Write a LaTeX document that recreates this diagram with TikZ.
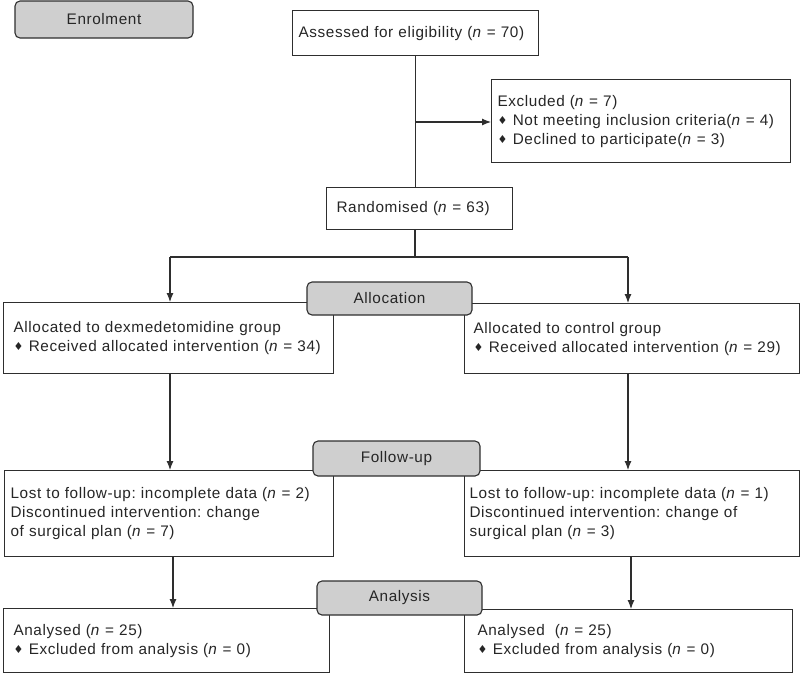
\documentclass[tikz,border=0pt]{standalone}
\usepackage{fontspec}
\setmainfont{Liberation Sans}[LetterSpace=4]
\newfontfamily\symfont{DejaVu Sans}
\usetikzlibrary{arrows.meta}
\newcommand\dia{{\symfont\fontsize{11}{11}\selectfont\raisebox{0.05em}{♦}}\hspace{0.35em}}
\newcommand\nn{\textit{n}}
\definecolor{linec}{HTML}{2E2E2E}
\definecolor{stagefill}{HTML}{CFCFCF}
\tikzset{
  fbox/.style={draw=linec, line width=1.1pt, fill=white, align=left, inner ysep=4pt,
    font=\frenchspacing\fontsize{15.3}{19}\selectfont, text=black!85},
  stage/.style={draw=linec, line width=1.1pt, fill=stagefill, rounded corners=5pt,
    font=\fontsize{15.3}{19}\selectfont, text=black!85, inner sep=0pt},
  arr/.style={draw=linec, line width=1.1pt, -{Latex[length=9pt,width=7pt]}},
  ln/.style={draw=linec, line width=1.1pt}
}
\newcommand\flowbox[7]{%
  \pgfmathsetmacro\fbw{#4-#2-2*#6}%
  \pgfmathsetmacro\fbh{#5-#3}%
  \node[fbox, inner xsep=#6pt, text width=\fbw pt, minimum height=\fbh pt, anchor=north west] (#1) at (#2,#3) {#7};}
\begin{document}
\begin{tikzpicture}[x=1pt,y=-1pt]
\useasboundingbox (0,0) rectangle (800,673);

% boxes
\flowbox{assess}{292}{10}{538}{55}{6}{Assessed for eligibility (\nn{} = 70)}
\flowbox{excl}{491}{79}{790}{162}{6}{Excluded (\nn{} = 7)\\\dia Not meeting inclusion criteria(\nn{} = 4)\\\dia Declined to participate(\nn{} = 3)}
\flowbox{rand}{326}{187}{512}{229}{10}{Randomised (\nn{} = 63)}
\flowbox{allocL}{3}{302}{333}{373}{10}{Allocated to dexmedetomidine group\\\dia Received allocated intervention (\nn{} = 34)\\[4pt]}
\flowbox{allocR}{464}{303}{799}{373}{9}{Allocated to control group\\\dia Received allocated intervention (\nn{} = 29)\\[4pt]}
\flowbox{fuL}{4}{470}{333}{556}{6}{Lost to follow-up: incomplete data (\nn{} = 2)\\Discontinued intervention: change\\of surgical plan (\nn{} = 7)\\[2pt]}
\flowbox{fuR}{464}{470}{799}{556}{5}{Lost to follow-up: incomplete data (\nn{} = 1)\\Discontinued intervention: change of\\surgical plan (\nn{} = 3)\\[2pt]}
\flowbox{anL}{3}{608}{329}{672}{10}{Analysed (\nn{} = 25)\\\dia Excluded from analysis (\nn{} = 0)}
\flowbox{anR}{464}{609}{792}{672}{13}{Analysed\ \ (\nn{} = 25)\\\dia Excluded from analysis (\nn{} = 0)}

% connectors
\coordinate (br) at (415,122);
\coordinate (sp) at (415,257);
\coordinate (spL) at (170,257);
\coordinate (spR) at (628,257);
\coordinate (colL2) at (173,0);
\coordinate (colR2) at (631,0);

\draw[ln] (assess.south) -- (assess.south |- rand.north);
\draw[arr] (br) -- (br -| excl.west);
\draw[ln] (sp |- rand.south) -- (sp);
\draw[ln] (spL) -- (spR);
\draw[arr] (spL) -- (spL |- allocL.north);
\draw[arr] (spR) -- (spR |- allocR.north);
\draw[arr] (spL |- allocL.south) -- (spL |- fuL.north);
\draw[arr] (spR |- allocR.south) -- (spR |- fuR.north);
\draw[arr] (colL2 |- fuL.south) -- (colL2 |- anL.north);
\draw[arr] (colR2 |- fuR.south) -- (colR2 |- anR.north);

% stage labels (on top of boxes)
\node[stage, minimum width=178pt, minimum height=37pt] (enrol) at (104,19.5) {Enrolment};
\node[stage, minimum width=165pt, minimum height=33pt] (alloc) at (389.5,298.5) {Allocation};
\node[stage, minimum width=167pt, minimum height=35pt] (fu) at (396.5,458.5) {Follow-up};
\node[stage, minimum width=165pt, minimum height=34pt] (an) at (399.5,598) {Analysis};
\end{tikzpicture}
\end{document}
